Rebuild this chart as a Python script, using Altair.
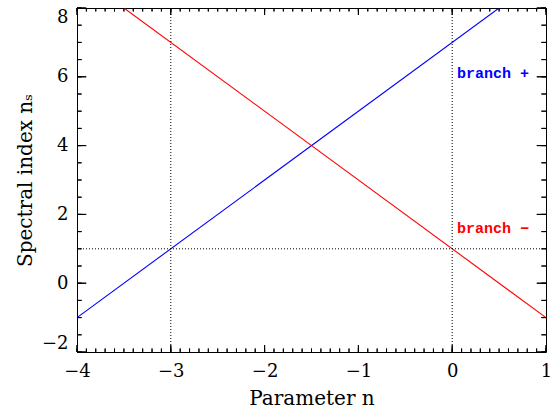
import altair as alt
import pandas as pd

# ---- data ----
blue_n = [-4.0, 0.5]
blue_ns = [-1.0, 8.0]
red_n = [-3.5, 1.0]
red_ns = [8.0, -1.0]

vlines_n = [-3.0, 0.0]
hline_ns = [1.0]

label_text = ["branch +", "branch \u2212"]
label_n = [0.05, 0.05]
label_ns = [6.1, 1.6]
label_color = ["#0000ff", "#ff0000"]

x_major = [-4, -3, -2, -1, 0, 1]
y_major = [-2, 0, 2, 4, 6, 8]
x_minor = [round(-4 + 0.1 * i, 2) for i in range(51)]
y_minor = [-2 + 0.5 * i for i in range(21)]

X_MIN, X_MAX, Y_MIN, Y_MAX = -4, 1, -2, 8
W, H = 469, 344
FONT = "DejaVu Serif"

lines_df = pd.DataFrame({
    "n": blue_n + red_n,
    "ns": blue_ns + red_ns,
    "branch": ["plus"] * 2 + ["minus"] * 2,
})

xs = alt.Scale(domain=[X_MIN, X_MAX], nice=False, zero=False)
ys = alt.Scale(domain=[Y_MIN, Y_MAX], nice=False, zero=False)

XA = alt.Axis(values=x_major, ticks=False, domain=False, grid=False,
              labelFont=FONT, labelFontSize=18, labelColor="black",
              labelPadding=10, labelFlush=False, labelOverlap=False,
              title="Parameter n", titleFont=FONT, titleFontSize=20,
              titleFontWeight="normal", titleColor="black", titlePadding=8)
YA = alt.Axis(values=y_major, ticks=False, domain=False, grid=False,
              labelFont=FONT, labelFontSize=18, labelColor="black",
              labelPadding=9, labelFlush=True, labelOverlap=False,
              title="Spectral index n\u209b", titleFont=FONT, titleFontSize=20,
              titleFontWeight="normal", titleColor="black", titlePadding=6)

lines = alt.Chart(lines_df).mark_line(strokeWidth=1.1, clip=True).encode(
    x=alt.X("n:Q", scale=xs, axis=XA),
    y=alt.Y("ns:Q", scale=ys, axis=YA),
    color=alt.Color("branch:N", scale=alt.Scale(domain=["plus", "minus"],
                                                range=["#0000ff", "#ff0000"]),
                    legend=None),
    detail="branch:N",
)


def Xn():
    return alt.X("n:Q", scale=xs, axis=None)


def Yn():
    return alt.Y("ns:Q", scale=ys, axis=None)


vrules = alt.Chart(pd.DataFrame({"n": vlines_n})).mark_rule(
    color="black", strokeDash=[1, 2], strokeWidth=1).encode(x=Xn())
hrules = alt.Chart(pd.DataFrame({"ns": hline_ns})).mark_rule(
    color="black", strokeDash=[1, 2], strokeWidth=1).encode(y=Yn())

ldf = pd.DataFrame({"t": label_text, "n": label_n, "ns": label_ns, "c": label_color})
labels = alt.Chart(ldf).mark_text(align="left", baseline="middle", font="Liberation Mono",
                                  fontWeight="bold", fontSize=15).encode(
    x=Xn(), y=Yn(), text="t:N", color=alt.Color("c:N", scale=None),
)


# inward ticks: full-span rules dashed so that only both ends are drawn
def xticks(values, length):
    return alt.Chart(pd.DataFrame({"n": values})).mark_rule(
        color="black", strokeWidth=1, strokeDash=[length, H - 2 * length]
    ).encode(x=Xn())


def yticks(values, length):
    return alt.Chart(pd.DataFrame({"ns": values})).mark_rule(
        color="black", strokeWidth=1, strokeDash=[length, W - 2 * length]
    ).encode(y=Yn())


# and the same ticks as short two-point segments (major 2 %, minor 1 % of span)
rows = []
for vals, frac in ((x_major, 0.02), (x_minor, 0.01)):
    span = (Y_MAX - Y_MIN) * frac
    for v in vals:
        for edge, other in ((Y_MIN, Y_MIN + span), (Y_MAX, Y_MAX - span)):
            key = f"x{frac}_{v}_{edge}"
            rows.append({"n": v, "ns": edge, "k": key})
            rows.append({"n": v, "ns": other, "k": key})
for vals, frac in ((y_major, 0.02), (y_minor, 0.01)):
    span = (X_MAX - X_MIN) * frac
    for v in vals:
        for edge, other in ((X_MIN, X_MIN + span), (X_MAX, X_MAX - span)):
            key = f"y{frac}_{v}_{edge}"
            rows.append({"n": edge, "ns": v, "k": key})
            rows.append({"n": other, "ns": v, "k": key})
ticks_df = pd.DataFrame(rows)

seg_ticks = alt.Chart(ticks_df).mark_line(color="black", strokeWidth=1).encode(
    x=Xn(), y=Yn(), detail="k:N",
)

chart = alt.layer(
    lines, vrules, hrules, labels,
    xticks(x_major, 7), xticks(x_minor, 3.5),
    yticks(y_major, 9), yticks(y_minor, 4.5),
    seg_ticks,
).resolve_axis(x="independent", y="independent").properties(
    width=W, height=H,
    autosize=alt.AutoSizeParams(type="none"),
    padding={"left": 77, "top": 8, "right": 12, "bottom": 64},
    background="white",
).configure_view(stroke="black", strokeWidth=1)

chart.save("out.html", embed_options={"renderer": "svg", "actions": False})
